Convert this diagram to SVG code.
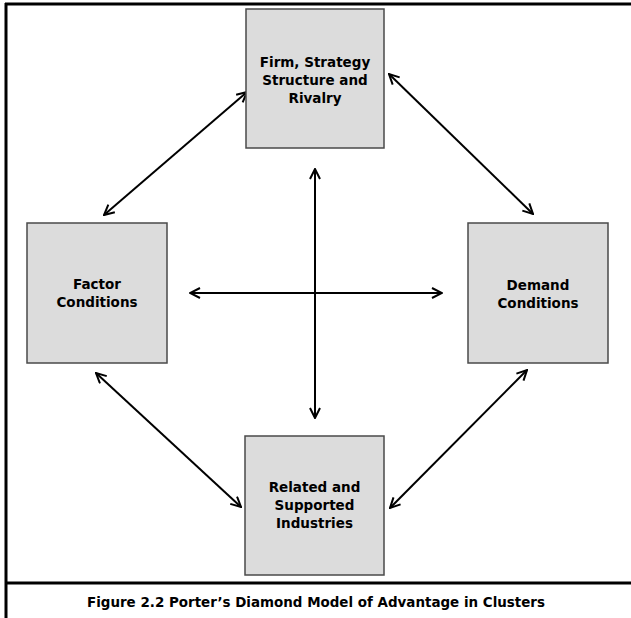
<svg xmlns="http://www.w3.org/2000/svg" width="631" height="618" viewBox="0 0 631 618">
  <style>
    .frame { stroke: #000; stroke-width: 3; fill: none; }
    .box { fill: #dcdcdc; stroke: #4a4a4a; stroke-width: 1.5; }
    .label { font-family: "DejaVu Sans", Verdana, sans-serif; font-weight: bold; font-size: 13.5px; fill: #000; text-anchor: middle; }
    .caption { font-family: "DejaVu Sans", Verdana, sans-serif; font-weight: bold; font-size: 14px; fill: #000; text-anchor: middle; }
    .link { stroke: #000; stroke-width: 2; fill: none; marker-start: url(#head); marker-end: url(#head); }
  </style>
  <defs>
    <marker id="head" viewBox="0 0 12 12" refX="11" refY="6" markerWidth="12" markerHeight="12" markerUnits="userSpaceOnUse" orient="auto-start-reverse">
      <path d="M1,1 L11,6 L1,11" fill="none" stroke="#000" stroke-width="2"/>
    </marker>
  </defs>

  <rect width="631" height="618" fill="#fff"/>

  <!-- outer frame and caption separator -->
  <g id="frame">
    <line class="frame" x1="5" y1="4" x2="631" y2="4"/>
    <line class="frame" x1="6" y1="3" x2="6" y2="618"/>
    <line class="frame" x1="5" y1="583" x2="631" y2="583"/>
  </g>

  <g id="connectors">
    <line class="link" x1="104" y1="215" x2="247" y2="92"/>
    <line class="link" x1="389" y1="74" x2="533" y2="214"/>
    <line class="link" x1="96" y1="373" x2="241" y2="507"/>
    <line class="link" x1="527" y1="370" x2="390" y2="508"/>
    <line class="link" x1="315" y1="169" x2="315" y2="418"/>
    <line class="link" x1="190" y1="293" x2="442" y2="293"/>
  </g>

  <g id="firm-strategy">
    <rect class="box" x="246" y="9" width="138" height="139"/>
    <text class="label" x="315" y="67">Firm, Strategy</text>
    <text class="label" x="315" y="85">Structure and</text>
    <text class="label" x="315" y="103">Rivalry</text>
  </g>

  <g id="factor-conditions">
    <rect class="box" x="27" y="223" width="140" height="140"/>
    <text class="label" x="97" y="289">Factor</text>
    <text class="label" x="97" y="307">Conditions</text>
  </g>

  <g id="demand-conditions">
    <rect class="box" x="468" y="223" width="140" height="140"/>
    <text class="label" x="538" y="290">Demand</text>
    <text class="label" x="538" y="308">Conditions</text>
  </g>

  <g id="related-industries">
    <rect class="box" x="245" y="436" width="139" height="139"/>
    <text class="label" x="314.5" y="492">Related and</text>
    <text class="label" x="314.5" y="510">Supported</text>
    <text class="label" x="314.5" y="528">Industries</text>
  </g>

  <g id="caption">
    <text class="caption" x="316" y="607" textLength="458" lengthAdjust="spacingAndGlyphs">Figure 2.2 Porter’s Diamond Model of Advantage in Clusters</text>
  </g>
</svg>
